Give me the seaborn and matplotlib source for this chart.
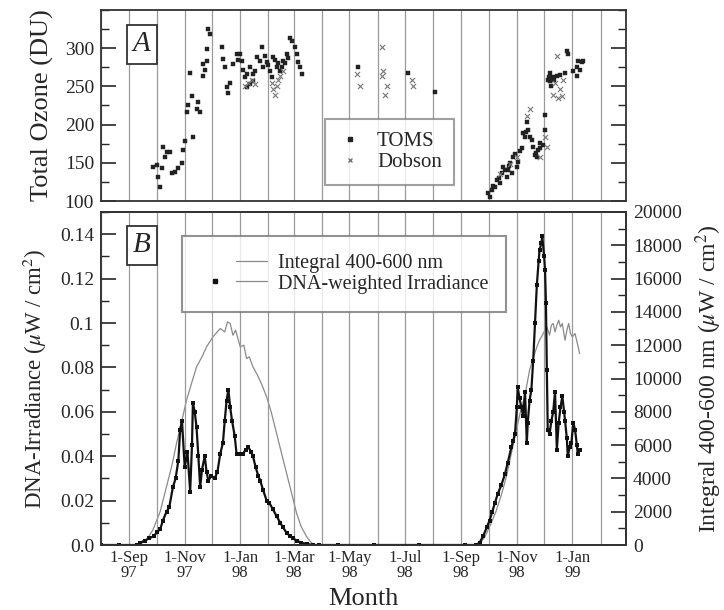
import numpy as np
import pandas as pd
import matplotlib
matplotlib.use("Agg")
import matplotlib.pyplot as plt
from matplotlib.lines import Line2D
from matplotlib.legend_handler import HandlerTuple
from matplotlib.ticker import MultipleLocator
import seaborn as sns

# ------------------ DATA (days since 1-Aug-1997) ------------------
toms_days = [61, 57, 63, 65, 68, 72, 76, 70, 67, 78, 81, 85, 89, 90, 92, 101, 94, 96, 100, 107,
             105, 109, 98, 112, 114, 112, 116, 117, 118, 120, 133, 134, 136, 138, 140, 142, 145,
             150, 153, 155, 156, 160, 164, 167, 171, 175, 177, 178, 182, 186, 189, 193, 197, 200,
             204, 208, 210, 213, 215, 216, 219, 221, 160, 164, 167, 151, 158, 169, 180, 184, 188,
             191, 195, 199, 202, 206,
             282, 337, 367,
             425, 428, 430, 433, 435, 438, 441, 442, 446, 447, 450, 452, 453, 455, 457, 458, 463,
             464, 466, 468, 469, 471, 474, 475, 477, 479, 480, 482, 486, 488, 488, 491, 493, 493,
             497, 501, 504, 510, 512, 513, 519, 523, 524, 529, 523, 526, 530, 431, 437, 444, 448,
             460, 467, 478, 483, 492, 495, 498]
toms_ozone = [147, 145, 132, 118, 171, 164, 164, 157, 143, 137, 138, 143, 150, 167, 178, 184, 217,
              226, 237, 230, 220, 216, 268, 263, 272, 279, 283, 299, 325, 318, 302, 286, 276, 249,
              242, 255, 279, 292, 292, 283, 272, 266, 275, 266, 288, 283, 301, 275, 282, 270, 288,
              276, 270, 283, 292, 314, 309, 301, 292, 282, 275, 266, 249, 253, 257, 285, 262, 270,
              290, 278, 262, 285, 280, 275, 280, 287,
              276, 268, 243,
              110, 105, 114, 118, 128, 124, 137, 145, 132, 141, 150, 137, 157, 161, 145, 151, 170,
              189, 184, 204, 193, 184, 180, 171, 160, 157, 167, 176, 173, 193, 213, 259, 268, 257,
              262, 263, 265, 268, 296, 292, 270, 276, 283, 282, 263, 272, 283, 120, 130, 140, 146,
              165, 190, 163, 170, 262, 250, 258]

dobson_days = [158, 162, 166, 169, 188, 189, 191, 193, 195, 197, 200,
               281, 285, 309, 310, 309, 314, 312, 342, 343,
               471, 468, 488, 490, 482, 501, 497, 502, 507, 504, 508, 499, 457, 449, 438]
dobson_ozone = [250, 255, 259, 253, 255, 246, 239, 250, 259, 263, 270,
                266, 250, 301, 270, 263, 250, 239, 259, 250,
                220, 211, 184, 171, 158, 290, 239, 235, 237, 246, 259, 255, 158, 148, 135]

dna_days = [0, 20, 40, 43, 48, 53, 58, 62, 65, 68, 72, 75, 79, 82, 85, 87, 89, 92, 95, 98, 100,
            101, 103, 105, 107, 109, 111, 114, 116, 118, 121, 125, 128, 131, 134, 136, 138, 140,
            142, 144, 147, 149, 152, 156, 159, 162, 165, 167, 170, 173, 175, 178, 182, 185, 189,
            193, 197, 200, 204, 208, 211, 215, 220, 226, 233, 240, 260, 300, 350, 400, 412,
            416, 420, 424, 427, 430, 433, 436, 440, 444, 447, 451, 453, 455, 457, 458, 460, 462,
            464, 466, 468, 469, 471, 473, 475, 477, 479, 481, 482, 484, 485, 487, 488, 489, 490,
            491, 493, 495, 497, 499, 501, 503, 505, 507, 509, 510, 512, 513, 515, 517, 519, 521,
            523, 524, 526]
dna_values = [0, 0, 0, 0.001, 0.002, 0.003, 0.004, 0.006, 0.007, 0.011, 0.015, 0.017, 0.026,
              0.030, 0.038, 0.052, 0.056, 0.035, 0.042, 0.024, 0.045, 0.064, 0.060, 0.053, 0.040,
              0.026, 0.034, 0.040, 0.033, 0.029, 0.031, 0.030, 0.033, 0.041, 0.046, 0.056, 0.065,
              0.070, 0.062, 0.056, 0.049, 0.041, 0.041, 0.041, 0.043, 0.044, 0.042, 0.040, 0.035,
              0.031, 0.029, 0.025, 0.020, 0.019, 0.016, 0.013, 0.010, 0.008, 0.0054, 0.004,
              0.003, 0.002, 0.001, 0.0005, 0, 0, 0, 0, 0, 0, 0,
              0.001, 0.004, 0.008, 0.011, 0.015, 0.019, 0.023, 0.027, 0.032, 0.037, 0.044, 0.047,
              0.050, 0.062, 0.071, 0.066, 0.062, 0.058, 0.069, 0.046, 0.055, 0.065, 0.070, 0.083,
              0.100, 0.117, 0.128, 0.133, 0.136, 0.139, 0.130, 0.124, 0.109, 0.079, 0.052, 0.050,
              0.056, 0.060, 0.069, 0.043, 0.055, 0.062, 0.067, 0.060, 0.056, 0.048, 0.040, 0.044,
              0.046, 0.055, 0.052, 0.045, 0.041, 0.043]

int_days = [0, 40, 43, 50, 57, 65, 72, 78, 83, 89, 94, 100, 105, 111, 116, 123, 131, 136, 139,
            142, 145, 148, 153, 157, 160, 163, 167, 172, 177, 182, 187, 193, 198, 204, 210, 215,
            220, 226, 231, 235, 260, 300, 350, 400, 412,
            416, 422, 428, 434, 440, 446, 451, 456, 461, 466, 471, 476, 479, 482, 486, 490, 493,
            495, 497, 499, 501, 503, 505, 507, 509, 510, 512, 514, 516, 518, 521, 524, 526]
int_values = [0, 0, 50, 300, 900, 2000, 3500, 4800, 6100, 7500, 8700, 9800, 10700, 11300, 11900,
              12500, 13000, 12800, 13400, 13300, 12600, 12900, 11900, 12000, 11200, 11300, 10700,
              10200, 9600, 8900, 8000, 6700, 5600, 4300, 3000, 1900, 1100, 500, 150, 0, 0, 0, 0,
              0, 0,
              50, 500, 1200, 2000, 3000, 4200, 5500, 6800, 8000, 9000, 10500, 11400, 11900, 12300,
              12700, 13100, 12600, 13200, 13300, 12800, 13200, 13500, 13100, 13300, 12600, 12300,
              12900, 13300, 12700, 12500, 12700, 12000, 11500]

base_date = pd.Timestamp("1997-08-01")


def to_dates(days):
    return base_date + pd.to_timedelta(np.asarray(days), unit="D")


# ------------------ STYLE ------------------
sns.set_style("ticks")
plt.rcParams["font.family"] = ["Liberation Serif", "DejaVu Serif"]
plt.rcParams["mathtext.fontset"] = "stix"

fig = plt.figure(figsize=(7.24, 6.10), dpi=100)
ax1 = fig.add_axes([101 / 724, 1 - 201 / 610, 525 / 724, 191 / 610])
ax2 = fig.add_axes([101 / 724, 1 - 545 / 610, 525 / 724, 333 / 610])
ax2r = ax2.twinx()

x_start, x_end = pd.Timestamp("1997-08-01"), pd.Timestamp("1999-03-01")
major = pd.date_range("1997-09-01", "1999-01-01", freq="2MS")
minor = pd.date_range("1997-08-01", "1999-03-01", freq="MS")

for ax in (ax1, ax2):
    ax.set_xlim(x_start, x_end)
    ax.set_xticks(minor, minor=True)
    ax.set_xticks(major)
    ax.grid(True, which="both", axis="x", color="#9a9a9a", lw=0.9)
    ax.tick_params(axis="x", which="both", length=0)
    for s in ax.spines.values():
        s.set_color("#333333")
        s.set_linewidth(1.3)
        s.set_visible(True)
ax1.set_xticklabels([])
ax2.set_xticklabels([f"1-{d:%b}\n{d:%y}" for d in major], fontsize=12, linespacing=0.9)

# ------------------ PANEL A: TOTAL OZONE ------------------
sns.scatterplot(x=to_dates(toms_days), y=toms_ozone, ax=ax1, marker="s", s=10,
                color="#222222", edgecolor="#222222", linewidth=0.3)
sns.scatterplot(x=to_dates(dobson_days), y=dobson_ozone, ax=ax1, marker="x", s=14,
                color="#777777", linewidth=0.8)
ax1.set_xlabel("")
ax1.set_ylim(100, 350)
ax1.set_yticks([100, 150, 200, 250, 300])
ax1.yaxis.set_minor_locator(MultipleLocator(25))
ax1.tick_params(axis="y", which="major", direction="in", length=11, width=1.2,
                left=True, right=True, labelsize=14, pad=5)
ax1.tick_params(axis="y", which="minor", direction="in", length=6, width=1,
                left=True, right=True)
ax1.set_ylabel("Total Ozone (DU)", fontsize=19, labelpad=8)
ax1.text(0.078, 0.82, "A", transform=ax1.transAxes, fontsize=21, style="italic",
         ha="center", va="center",
         bbox=dict(boxstyle="square,pad=0.22", fc="white", ec="#333333", lw=1.3))

leg_a = [Line2D([], [], ls="none", marker="s", ms=2.5, color="#222222"),
         Line2D([], [], ls="none", marker="x", ms=3.5, color="#777777")]
ax1.legend(leg_a, ["TOMS", "Dobson"], loc="center", bbox_to_anchor=(0.55, 0.257),
           fontsize=15, frameon=True, fancybox=False, edgecolor="#888888",
           handlelength=1.2, handletextpad=0.7, borderpad=0.6, labelspacing=0.05)
ax1.get_legend().get_frame().set_linewidth(1.5)

# ------------------ PANEL B: IRRADIANCE ------------------
sns.lineplot(x=to_dates(int_days), y=int_values, ax=ax2r, color="#8a8a8a", lw=0.9,
             estimator=None)
sns.lineplot(x=to_dates(dna_days), y=dna_values, ax=ax2, color="#111111", lw=1.6,
             marker="s", markersize=2.8, markeredgewidth=0, estimator=None)
ax2.set_zorder(ax2r.get_zorder() + 1)
ax2.patch.set_visible(False)
ax2r.set_xlabel("")
ax2r.xaxis.set_visible(False)

ax2.set_ylim(0, 0.15)
ax2.set_yticks([0, 0.02, 0.04, 0.06, 0.08, 0.1, 0.12, 0.14])
ax2.set_yticklabels(["0.0", "0.02", "0.04", "0.06", "0.08", "0.1", "0.12", "0.14"])
ax2.yaxis.set_minor_locator(MultipleLocator(0.01))
ax2.tick_params(axis="y", which="major", direction="in", length=11, width=1.2,
                labelsize=14, pad=5)
ax2.tick_params(axis="y", which="minor", direction="in", length=6, width=1)
ax2.set_ylabel(r"DNA-Irradiance ($\mu$W / cm$^2$)", fontsize=16.5, labelpad=8)
ax2.set_xlabel("Month", fontsize=19, labelpad=5)

ax2r.set_ylim(0, 20000)
ax2r.set_yticks(np.arange(0, 20001, 2000))
ax2r.yaxis.set_minor_locator(MultipleLocator(1000))
ax2r.tick_params(axis="y", which="major", direction="in", length=11, width=1.2,
                 labelsize=14, pad=5)
ax2r.tick_params(axis="y", which="minor", direction="in", length=6, width=1)
ax2r.set_ylabel(r"Integral 400-600 nm ($\mu$W / cm$^2$)", fontsize=17, rotation=90,
                labelpad=8)
ax2r.set_xlim(x_start, x_end)
for s in ax2r.spines.values():
    s.set_color("#333333")
    s.set_linewidth(1.3)

ax2.text(0.078, 0.90, "B", transform=ax2.transAxes, fontsize=21, style="italic",
         ha="center", va="center",
         bbox=dict(boxstyle="square,pad=0.22", fc="white", ec="#333333", lw=1.3))

blank = Line2D([], [], ls="none")
leg_b = [(blank, Line2D([], [], color="#8a8a8a", lw=0.9)),
         (Line2D([], [], ls="none", marker="s", ms=2.5, color="#111111"),
          Line2D([], [], color="#8a8a8a", lw=0.9))]
ax2.legend(leg_b, ["Integral 400-600 nm", "DNA-weighted Irradiance"], loc="center",
           bbox_to_anchor=(0.463, 0.814), fontsize=14.5, frameon=True, fancybox=False,
           edgecolor="#777777", handlelength=3.3, handletextpad=0.55, borderpad=0.9,
           labelspacing=0.05, handler_map={tuple: HandlerTuple(ndivide=None, pad=0.3)})
ax2.get_legend().get_frame().set_linewidth(1.5)

fig.savefig("out.png", dpi=100)
